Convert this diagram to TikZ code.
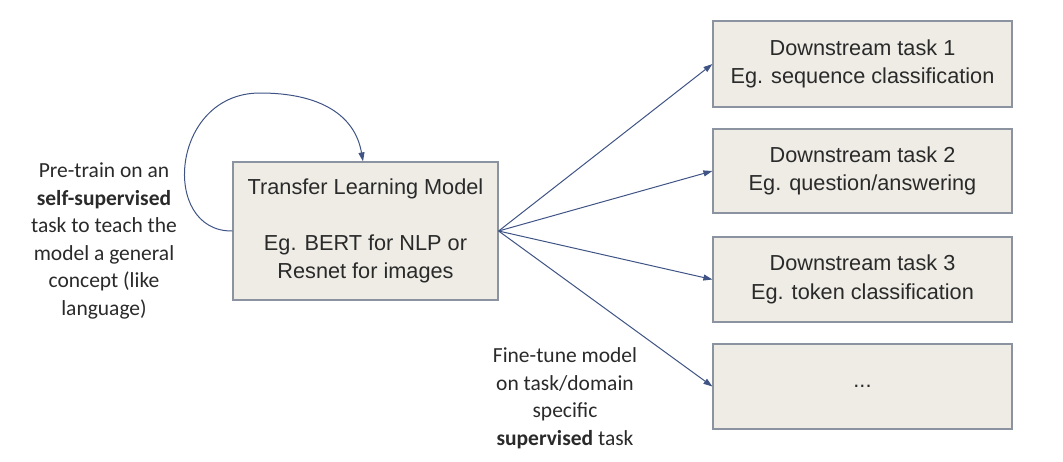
\documentclass[tikz,border=0pt]{standalone}
\usepackage{fontspec}
\setmainfont{Liberation Sans}
\newfontfamily\calib{Carlito}
\usetikzlibrary{arrows.meta}
\definecolor{boxfill}{HTML}{EEECE5}
\definecolor{boxline}{HTML}{8C93A0}
\definecolor{arrowc}{HTML}{3F5485}
\definecolor{txt}{HTML}{2A2A2A}
\begin{document}
\begin{tikzpicture}[x=1pt,y=-1pt,
  box/.style={draw=boxline,line width=1.2pt,fill=boxfill,text=txt,align=center,inner sep=0pt,font=\fontsize{21.7}{28.5}\selectfont},
  conn/.style={draw=arrowc,line width=1pt,-{Triangle[length=9pt,width=6pt]}},
  note/.style={text=txt,align=center,font=\calib\fontsize{21.5}{27.5}\selectfont,inner sep=0pt}]
\useasboundingbox (0,0) rectangle (1063,461);
\node[box,minimum width=265pt,minimum height=138pt] (m) at (365.5,231) {Transfer Learning Model\\[27pt]Eg. BERT for NLP or\\Resnet for images};
\node[box,minimum width=299pt,minimum height=86pt] (d1) at (862.5,64) {Downstream task 1\\Eg. sequence classification};
\node[box,minimum width=299pt,minimum height=84pt] (d2) at (862.5,171) {Downstream task 2\\Eg. question/answering};
\node[box,minimum width=299pt,minimum height=85pt] (d3) at (862.5,279.5) {Downstream task 3\\Eg. token classification};
\node[box,minimum width=299pt,minimum height=85pt] (d4) at (862.5,386.5) {...};
\coordinate (src) at (m.east);
\draw[conn] (src) -- (d1.west);
\draw[conn] (src) -- (d2.west);
\draw[conn] (src) -- (d3.west);
\draw[conn] (src) -- (d4.west);
\draw[conn] (m.west) .. controls (160,232) and (170,93) .. (260,93) .. controls (320,93) and (355,115) .. ([xshift=-2.5pt]m.north);
\node[note] (l) at (104,241) {Pre-train on an\\\textbf{self-supervised}\\task to teach the\\model a general\\concept (like\\language)};
\node[note] (b) at (565,398) {Fine-tune model\\on task/domain\\specific\\\textbf{supervised} task};
\end{tikzpicture}
\end{document}
